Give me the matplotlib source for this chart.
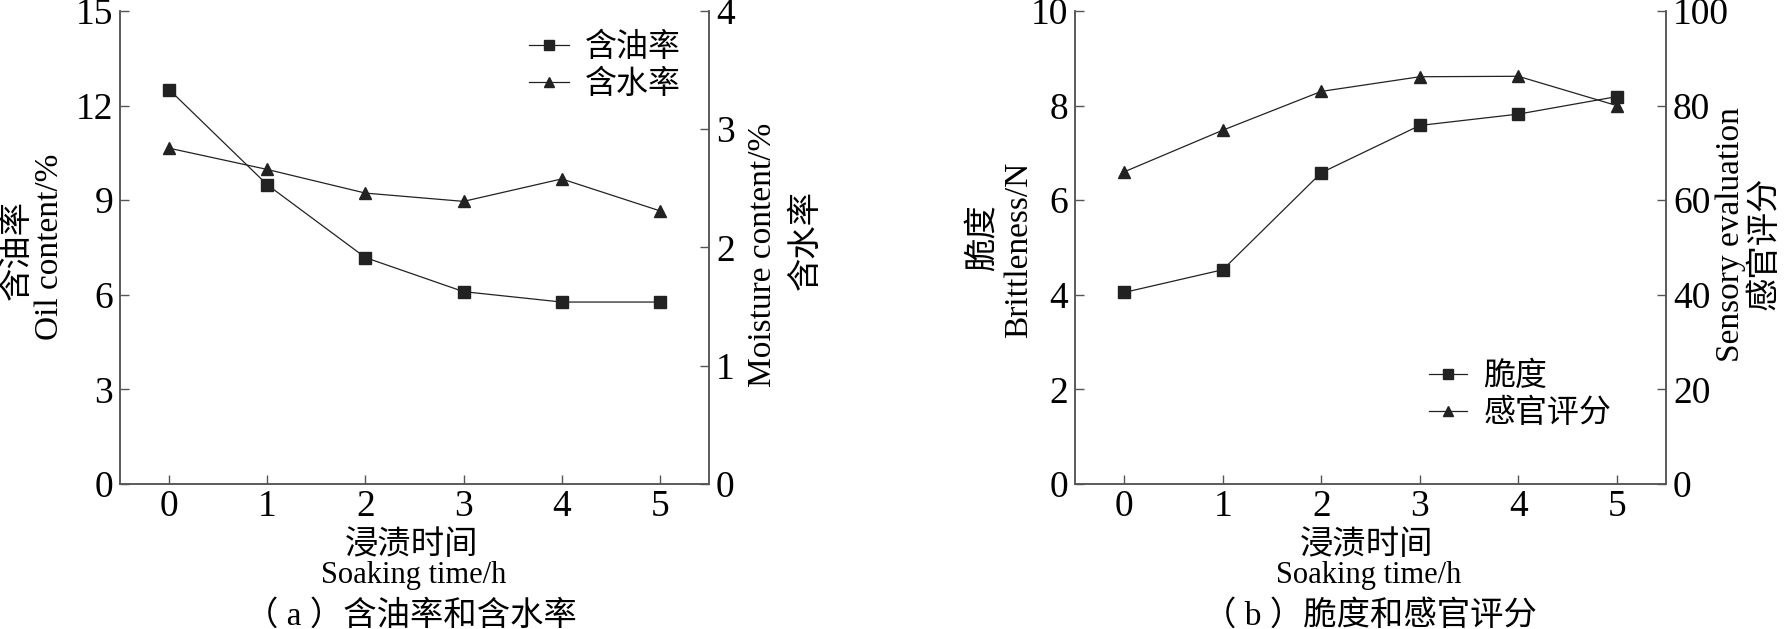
import matplotlib
matplotlib.use("Agg")
import matplotlib.pyplot as plt

plt.rcParams['font.family'] = ['Liberation Serif', 'Noto Sans CJK SC']

# ---- data ----
time_h = [0, 1, 2, 3, 4, 5]
oil_content = [12.51, 9.49, 7.18, 6.10, 5.77, 5.77]
moisture_content = [2.84, 2.66, 2.46, 2.39, 2.58, 2.31]
brittleness = [4.05, 4.53, 6.58, 7.58, 7.82, 8.19]
sensory = [66.0, 74.8, 83.0, 86.1, 86.2, 80.0]

xticks = [0, 1, 2, 3, 4, 5]
oil_ticks = [0, 3, 6, 9, 12, 15]
moist_ticks = [0, 1, 2, 3, 4]
brit_ticks = [0, 2, 4, 6, 8, 10]
sens_ticks = [0, 20, 40, 60, 80, 100]

W, H = 1787, 629
fig = plt.figure(figsize=(W / 100, H / 100), dpi=100)

def ax_rect(x0, x1, y0, y1):
    return [x0 / W, 1 - y1 / H, (x1 - x0) / W, (y1 - y0) / H]

SPINE = '#555555'
LINE = '#222222'
TICKFS = 27
HLATFS = 22     # horizontal latin label
VLATFS = 24     # vertical latin label
HCJKFS = 24     # horizontal CJK label
VCJKFS = 24     # vertical CJK label
LEGFS = 23

def style(ax):
    ax.spines['top'].set_visible(False)
    for s in ['left', 'right', 'bottom']:
        ax.spines[s].set_color(SPINE)
        ax.spines[s].set_linewidth(1.1)
    ax.tick_params(direction='in', length=6.5, width=1.0, color=SPINE,
                   labelsize=TICKFS, pad=5)
    ax.tick_params(axis='x', pad=4)

def fx(px):
    return px / W

def fy(py):
    return 1 - py / H

# ---------- panel a ----------
axa = fig.add_axes(ax_rect(120, 709, 11, 484))
axa2 = axa.twinx()
l1, = axa.plot(time_h, oil_content, color=LINE, lw=0.9, marker='s', ms=8,
               mfc=LINE, mec=LINE)
l2, = axa2.plot(time_h, moisture_content, color=LINE, lw=0.9, marker='^', ms=8.5,
                mfc=LINE, mec=LINE)
axa.set_xlim(-0.5, 5.5)
axa.set_ylim(0, 15)
axa2.set_ylim(0, 4)
axa.set_xticks(xticks)
axa.set_yticks(oil_ticks)
axa2.set_yticks(moist_ticks)
style(axa)
style(axa2)

axa.legend([l1, l2], ['含油率', '含水率'], loc='upper left',
           bbox_to_anchor=(fx(529), fy(33)), bbox_transform=fig.transFigure,
           frameon=False, fontsize=LEGFS, handlelength=1.25, handletextpad=0.5,
           labelspacing=0.2, borderpad=0, borderaxespad=0, markerscale=0.85)

fig.text(fx(17), fy(250), '含油率', rotation=90, ha='center', va='center', fontsize=VCJKFS)
fig.text(fx(50), fy(247), 'Oil content/%', rotation=90, ha='center', va='center', fontsize=VLATFS)
fig.text(fx(763), fy(255), 'Moisture content/%', rotation=90, ha='center', va='center', fontsize=VLATFS)
fig.text(fx(806), fy(240), '含水率', rotation=90, ha='center', va='center', fontsize=VCJKFS)

fig.text(fx(412), fy(546), '浸渍时间', ha='center', va='center', fontsize=HCJKFS)
fig.text(fx(414), fy(575), 'Soaking time/h', ha='center', va='center', fontsize=HLATFS)
fig.text(fx(411), fy(616), '（ a ）含油率和含水率', ha='center', va='center', fontsize=HCJKFS)

# ---------- panel b ----------
axb = fig.add_axes(ax_rect(1075, 1666, 11, 484))
axb2 = axb.twinx()
l3, = axb.plot(time_h, brittleness, color=LINE, lw=0.9, marker='s', ms=8,
               mfc=LINE, mec=LINE)
l4, = axb2.plot(time_h, sensory, color=LINE, lw=0.9, marker='^', ms=8.5,
                mfc=LINE, mec=LINE)
axb.set_xlim(-0.5, 5.5)
axb.set_ylim(0, 10)
axb2.set_ylim(0, 100)
axb.set_xticks(xticks)
axb.set_yticks(brit_ticks)
axb2.set_yticks(sens_ticks)
style(axb)
style(axb2)

axb.legend([l3, l4], ['脆度', '感官评分'], loc='upper left',
           bbox_to_anchor=(fx(1429), fy(362)), bbox_transform=fig.transFigure,
           frameon=False, fontsize=LEGFS, handlelength=1.2, handletextpad=0.5,
           labelspacing=0.2, borderpad=0, borderaxespad=0, markerscale=0.85)

fig.text(fx(983), fy(238), '脆度', rotation=90, ha='center', va='center', fontsize=VCJKFS)
fig.text(fx(1019), fy(250), 'Brittleness/N', rotation=90, ha='center', va='center', fontsize=VLATFS)
fig.text(fx(1731), fy(235), 'Sensory evaluation', rotation=90, ha='center', va='center', fontsize=VLATFS)
fig.text(fx(1765), fy(243), '感官评分', rotation=90, ha='center', va='center', fontsize=VCJKFS)

fig.text(fx(1367), fy(546), '浸渍时间', ha='center', va='center', fontsize=HCJKFS)
fig.text(fx(1369), fy(575), 'Soaking time/h', ha='center', va='center', fontsize=HLATFS)
fig.text(fx(1370), fy(616), '（ b ）脆度和感官评分', ha='center', va='center', fontsize=HCJKFS)

fig.savefig('out.png', dpi=100)
